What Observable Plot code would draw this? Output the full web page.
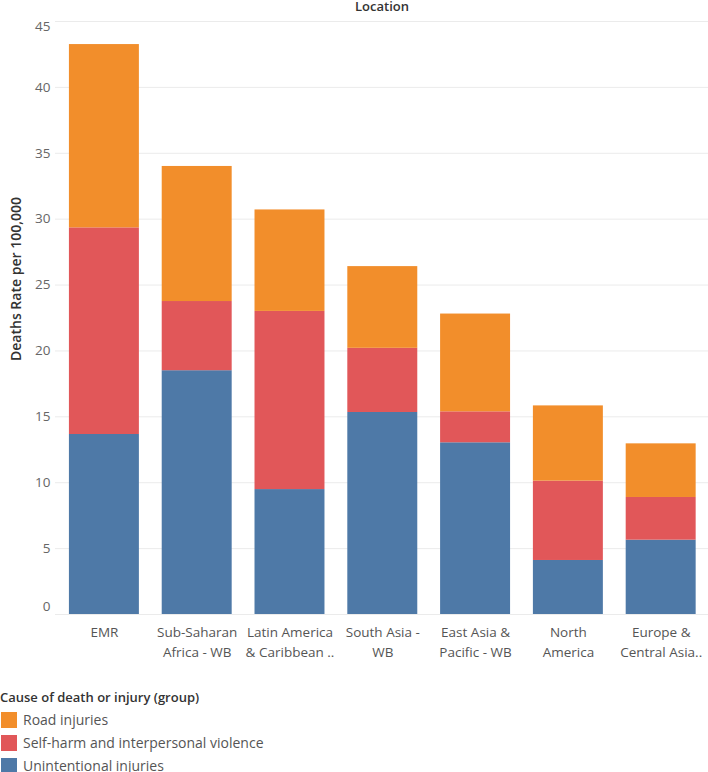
<!DOCTYPE html>
<html>
<head>
<meta charset="utf-8">
<script src="https://cdn.jsdelivr.net/npm/d3@7"></script>
<script src="https://cdn.jsdelivr.net/npm/@observablehq/plot@0.6"></script>
<style>
  html, body { margin: 0; padding: 0; background: #fff; }
  body { font-family: "Open Sans", sans-serif; width: 708px; }
  #legend { margin-top: 17px; font-size: 14px; color: #555; }
  #legend .title { color: #333; font-weight: 600; font-size: 13px; line-height: 20px; margin-bottom: 1px; }
  #legend .item { display: flex; align-items: center; height: 23px; }
  #legend .sw { width: 16px; height: 16px; margin-left: 1px; margin-right: 6px; }
</style>
</head>
<body>
<div id="chart"></div>
<div id="legend"></div>
<script>
const locations = [
  "EMR",
  "Sub-Saharan Africa - WB",
  "Latin America & Caribbean - WB",
  "South Asia - WB",
  "East Asia & Pacific - WB",
  "North America",
  "Europe & Central Asia - WB"
];
const tickLabels = [
  "EMR",
  "Sub-Saharan\nAfrica - WB",
  "Latin America\n& Caribbean ..",
  "South Asia -\nWB",
  "East Asia &\nPacific - WB",
  "North\nAmerica",
  "Europe &\nCentral Asia.."
];
const causes = ["Unintentional injuries", "Self-harm and interpersonal violence", "Road injuries"];
const unintentional = [13.66, 18.5, 9.48, 15.33, 13.03, 4.1, 5.64];
const selfHarm = [15.68, 5.25, 13.52, 4.87, 2.35, 6.02, 3.24];
const road = [13.91, 10.25, 7.7, 6.2, 7.42, 5.71, 4.07];
const colors = ["#4E79A7", "#E15759", "#F28E2B"];
const legendOrder = ["Road injuries", "Self-harm and interpersonal violence", "Unintentional injuries"];
const yTicks = [0, 5, 10, 15, 20, 25, 30, 35, 40, 45];

const series = [unintentional, selfHarm, road];
const data = [];
locations.forEach((loc, i) => {
  causes.forEach((c, j) => data.push({location: loc, cause: c, value: series[j][i]}));
});

const font = "Open Sans, sans-serif";
const yAxisStyle = {tickSize: 0, tickPadding: 5, fontSize: 13.5, fill: "#666", label: null};
const chart = Plot.plot({
  width: 708,
  height: 670,
  marginTop: 21,
  marginBottom: 56,
  marginLeft: 55,
  marginRight: 0,
  style: {fontFamily: font, background: "#fff"},
  x: {domain: locations, paddingInner: 0.246, paddingOuter: 0.1415, align: 0.53, round: false, label: null},
  y: {domain: [0, 45], label: null},
  color: {domain: causes, range: colors},
  marks: [
    Plot.gridY(yTicks, {stroke: "#ebebeb", strokeOpacity: 1}),
    Plot.barY(data, {x: "location", y: "value", fill: "cause", order: null}),
    Plot.axisY(yTicks.slice(1, -1), yAxisStyle),
    Plot.axisY([yTicks[0]], {...yAxisStyle, dy: -8}),
    Plot.axisY([yTicks[yTicks.length - 1]], {...yAxisStyle, dy: 5}),
    Plot.axisX({tickSize: 0, tickPadding: 9, fontSize: 13.5, fill: "#555", lineHeight: 1.45,
      tickFormat: (d) => tickLabels[locations.indexOf(d)], label: null}),
    Plot.text(["Location"], {frameAnchor: "top", dy: -15, lineAnchor: "middle", fontSize: 13, fontWeight: 600, fill: "#333"}),
    Plot.text(["Deaths Rate per 100,000"], {frameAnchor: "left", rotate: -90, dx: -39, dy: -39, textAnchor: "middle", lineAnchor: "middle", fontSize: 14, fontWeight: 600, fill: "#333"})
  ]
});
document.getElementById("chart").appendChild(chart);

const legend = document.getElementById("legend");
const title = document.createElement("div");
title.className = "title";
title.textContent = "Cause of death or injury (group)";
legend.appendChild(title);
legendOrder.forEach((c) => {
  const item = document.createElement("div");
  item.className = "item";
  const sw = document.createElement("span");
  sw.className = "sw";
  sw.style.background = colors[causes.indexOf(c)];
  const label = document.createElement("span");
  label.textContent = c;
  item.appendChild(sw);
  item.appendChild(label);
  legend.appendChild(item);
});
</script>
</body>
</html>
